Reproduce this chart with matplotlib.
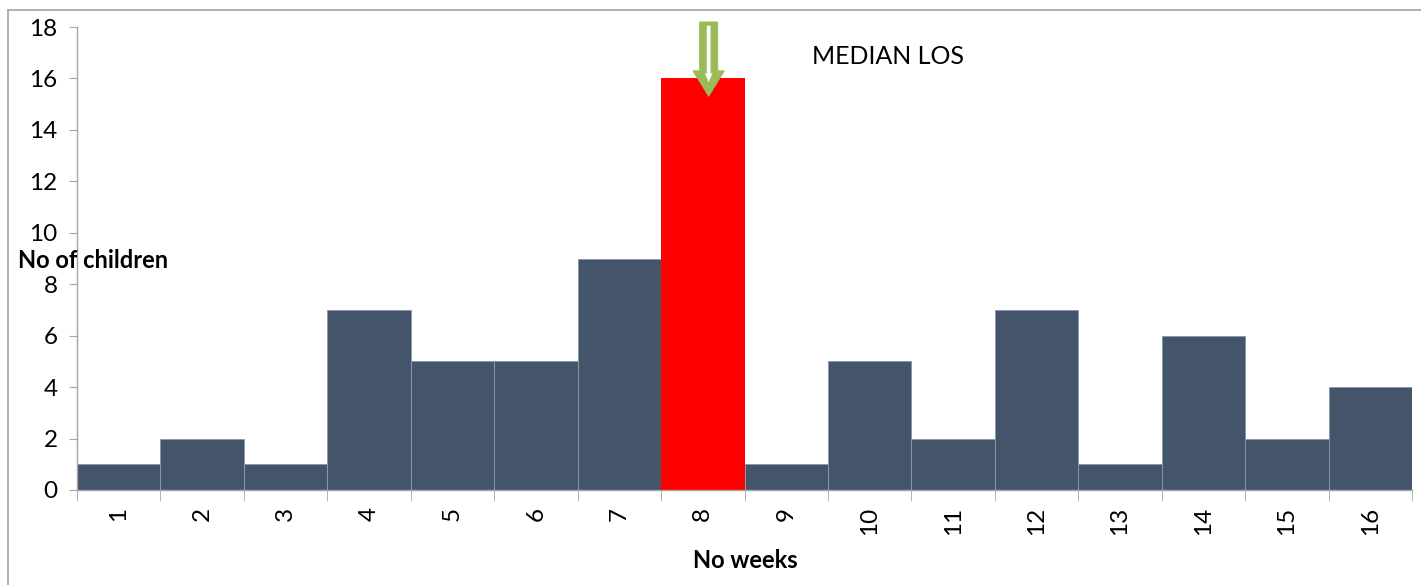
import numpy as np
import matplotlib
matplotlib.use('Agg')
import matplotlib.pyplot as plt
from matplotlib.lines import Line2D
from matplotlib.patches import FancyArrow

plt.rcParams['font.family'] = ['Lato', 'DejaVu Sans']

# number of children by length of stay (weeks)
weeks = list(range(1, 17))
children = [1, 2, 1, 7, 5, 5, 9, 16, 1, 5, 2, 7, 1, 6, 2, 4]
median_week = 8

bar_color = '#44546A'
median_color = '#FF0000'
grid_gray = '#A6A6A6'

fig = plt.figure(figsize=(14.21, 5.85), dpi=100)
ax = fig.add_axes([0.0542, 0.1624, 0.9395, 0.7914])

x = np.array(weeks)
colors = [median_color if w == median_week else bar_color for w in weeks]
edges = ['none' if w == median_week else '#8A98AE' for w in weeks]
ax.bar(x, children, width=1.0, color=colors, edgecolor=edges, linewidth=0.7, zorder=2)

ax.set_xlim(0.5, 16.5)
ax.set_ylim(0, 18)
ax.set_yticks(range(0, 19, 2))
ax.set_xticks(x)
ax.set_xticklabels([str(w) for w in weeks], rotation=90)
ax.set_xticks(np.arange(0.5, 17, 1), minor=True)

for side in ['top', 'right']:
    ax.spines[side].set_visible(False)
for side in ['left', 'bottom']:
    ax.spines[side].set_color(grid_gray)
    ax.spines[side].set_linewidth(1.0)

ax.tick_params(axis='y', which='major', length=6, color=grid_gray, labelsize=17.5, pad=8)
ax.tick_params(axis='x', which='major', length=0, labelsize=17.5, pad=12)
ax.tick_params(axis='x', which='minor', length=8, color=grid_gray)

# green block arrow pointing at the median bar
ax.add_patch(FancyArrow(8.07, 18.2, 0, -2.9, width=0.22, head_width=0.38,
                        head_length=1.0, length_includes_head=True,
                        facecolor='#9BBB59', edgecolor='#9BBB59', linewidth=0.5,
                        clip_on=False, zorder=4))
ax.add_patch(FancyArrow(8.07, 18.05, 0, -2.2, width=0.045, head_width=0.09,
                        head_length=0.35, length_includes_head=True,
                        facecolor='white', edgecolor='none',
                        clip_on=False, zorder=5))
ax.text(9.31, 16.87, 'MEDIAN LOS', fontsize=18, ha='left', va='center')

fig.text(18 / 1421, 1 - 261 / 585, 'No of children', fontsize=17, fontweight='bold',
         ha='left', va='center')
fig.text(745 / 1421, 1 - 560 / 585, 'No weeks', fontsize=17, fontweight='bold',
         ha='center', va='center')

# outer frame of the chart area
fig.add_artist(Line2D([8 / 1421, 8 / 1421], [0, 1 - 10 / 585], transform=fig.transFigure,
                      color=grid_gray, linewidth=1.2))
fig.add_artist(Line2D([8 / 1421, 1], [1 - 10 / 585, 1 - 10 / 585], transform=fig.transFigure,
                      color=grid_gray, linewidth=1.2))

fig.savefig('out.png', dpi=100)
